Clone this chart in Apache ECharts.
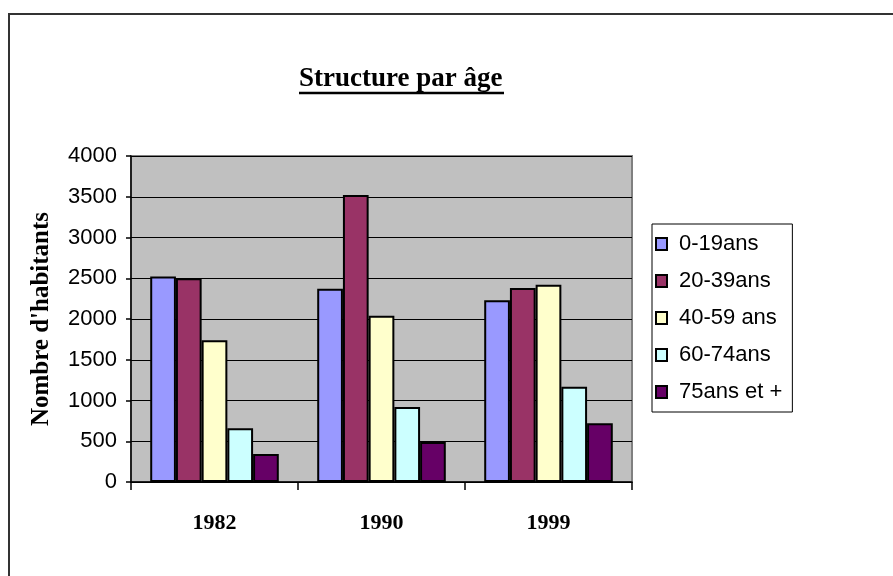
<!DOCTYPE html>
<html>
<head>
<meta charset="utf-8">
<script src="https://cdn.jsdelivr.net/npm/echarts@6/dist/echarts.min.js"></script>
<style>html,body{margin:0;padding:0;background:#fff}#c{width:893px;height:576px}</style>
</head>
<body>
<div id="c"></div>
<script>
const categories = ['1982', '1990', '1999'];
const seriesNames = ['0-19ans', '20-39ans', '40-59 ans', '60-74ans', '75ans et +'];
const age0_19 = [2520, 2370, 2230];
const age20_39 = [2500, 3520, 2380];
const age40_59 = [1740, 2040, 2420];
const age60_74 = [660, 920, 1170];
const age75plus = [345, 490, 720];
const colors = ['#9999ff', '#993366', '#ffffcc', '#ccffff', '#660066'];
const yTicks = { min: 0, max: 4000, interval: 500 };

const values = [age0_19, age20_39, age40_59, age60_74, age75plus];
const chart = echarts.init(document.getElementById('c'), null, { renderer: 'canvas' });
chart.setOption({
  animation: false,
  backgroundColor: '#ffffff',
  title: {
    text: 'Structure par âge',
    left: 299,
    top: 66,
    padding: 0,
    textStyle: { fontFamily: 'Liberation Serif', fontWeight: 'bold', fontSize: 27, color: '#000' }
  },
  graphic: [
    { type: 'rect', shape: { x: 9, y: 14, width: 900, height: 600 }, style: { fill: 'none', stroke: '#333', lineWidth: 2 }, silent: true },
    { type: 'line', shape: { x1: 299, y1: 93, x2: 504, y2: 93 }, style: { stroke: '#000', lineWidth: 2.5 }, silent: true }
  ],
  legend: {
    orient: 'vertical',
    left: 652,
    top: 224,
    data: seriesNames,
    backgroundColor: '#fff',
    borderColor: '#000',
    borderWidth: 1,
    padding: [9, 10, 9, 3],
    itemGap: 15,
    itemWidth: 11,
    itemHeight: 12,
    icon: 'rect',
    textStyle: { fontFamily: 'Liberation Sans', fontSize: 22, color: '#000', lineHeight: 22, padding: [0, 0, 0, 7] }
  },
  grid: {
    left: 131, right: 261, top: 156, bottom: 94,
    show: true, backgroundColor: '#c0c0c0', borderColor: '#808080', borderWidth: 2
  },
  xAxis: {
    type: 'category',
    data: categories,
    axisLine: { lineStyle: { color: '#000', width: 1.5 } },
    axisTick: { show: true, length: 8, lineStyle: { color: '#000', width: 1.5 } },
    axisLabel: { margin: 30, fontFamily: 'Liberation Serif', fontWeight: 'bold', fontSize: 22, color: '#000' }
  },
  yAxis: {
    type: 'value',
    min: yTicks.min, max: yTicks.max, interval: yTicks.interval,
    name: "Nombre d'habitants",
    nameLocation: 'middle',
    nameGap: 77,
    nameRotate: 90,
    nameTextStyle: { fontFamily: 'Liberation Serif', fontWeight: 'bold', fontSize: 25, color: '#000' },
    axisLine: { show: true, lineStyle: { color: '#000', width: 1.5 } },
    axisTick: { show: true, length: 5, lineStyle: { color: '#000', width: 1.5 } },
    axisLabel: { margin: 14, fontFamily: 'Liberation Sans', fontSize: 22, color: '#000', formatter: v => String(v) },
    splitLine: { show: true, lineStyle: { color: '#000', width: 1 } }
  },
  series: seriesNames.map((n, i) => ({
    name: n,
    type: 'bar',
    data: values[i],
    barGap: '0%',
    barCategoryGap: '23%',
    itemStyle: { color: colors[i], borderColor: '#000', borderWidth: 2 }
  }))
});
</script>
</body>
</html>
